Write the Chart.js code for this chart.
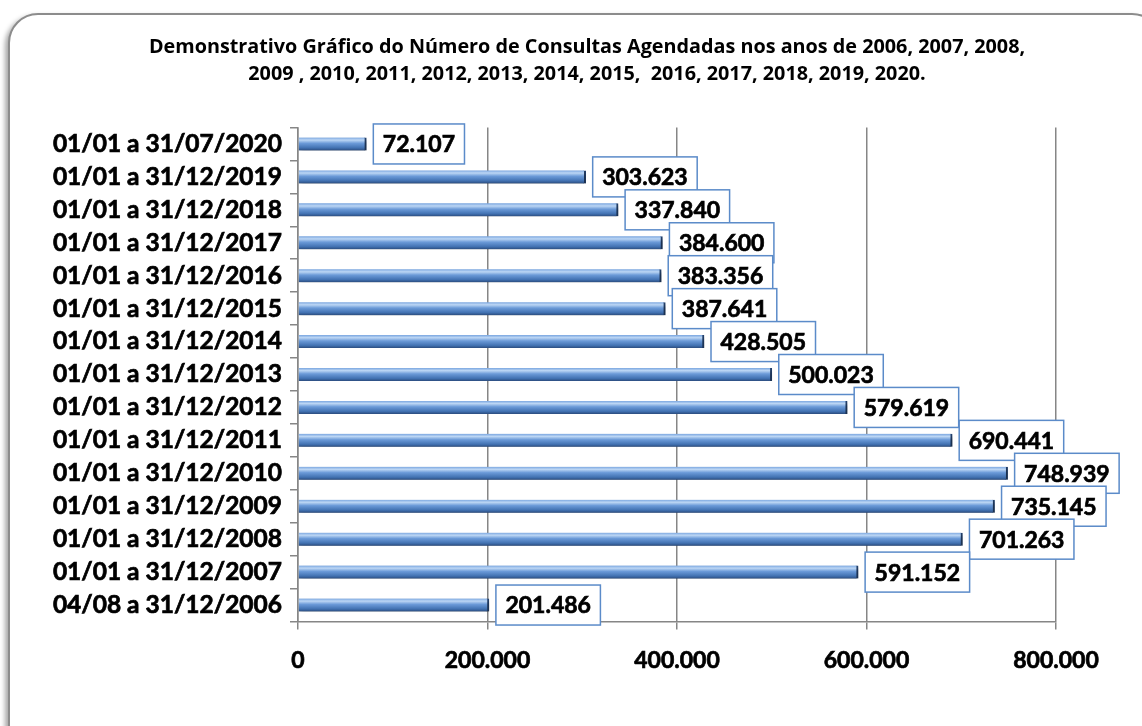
<!DOCTYPE html>
<html>
<head>
<meta charset="utf-8">
<script src="https://cdn.jsdelivr.net/npm/chart.js@4"></script>
<style>
  html, body { margin: 0; padding: 0; background: #fff; overflow: hidden; }
  #wrap { position: relative; width: 1142px; height: 726px; overflow: hidden; }
  #frame {
    position: absolute; left: 8px; top: 13px; width: 1150px; height: 740px;
    border: 2px solid #8c8c8c; border-radius: 30px; background: #fff;
    box-shadow: -3px 3px 5px rgba(0,0,0,0.35);
  }
  #chart { position: absolute; left: 0; top: 0; }
</style>
</head>
<body>
<div id="wrap">
  <div id="frame"></div>
  <canvas id="chart" width="1142" height="726"></canvas>
</div>
<script>
// periods, top row first
const periods = [
  '01/01 a 31/07/2020', '01/01 a 31/12/2019', '01/01 a 31/12/2018', '01/01 a 31/12/2017',
  '01/01 a 31/12/2016', '01/01 a 31/12/2015', '01/01 a 31/12/2014', '01/01 a 31/12/2013',
  '01/01 a 31/12/2012', '01/01 a 31/12/2011', '01/01 a 31/12/2010', '01/01 a 31/12/2009',
  '01/01 a 31/12/2008', '01/01 a 31/12/2007', '04/08 a 31/12/2006'
];
const consultas = [
  72107, 303623, 337840, 384600, 383356, 387641, 428505, 500023,
  579619, 690441, 748939, 735145, 701263, 591152, 201486
];
const xTicks = [0, 200000, 400000, 600000, 800000];
const titleLines = [
  'Demonstrativo Gráfico do Número de Consultas Agendadas nos anos de 2006, 2007, 2008,',
  '2009 , 2010, 2011, 2012, 2013, 2014, 2015,  2016, 2017, 2018, 2019, 2020.'
];

const FONT = 'Lato, "Open Sans", sans-serif';
const BAR_H = 13;

const fmt = v => v.toString().replace(/\B(?=(\d{3})+(?!\d))/g, '.');

// vertical gradient for each bar, from the y scale position
function barFill(ctx) {
  const chart = ctx.chart;
  const ys = chart.scales.y;
  if (!ys || ctx.dataIndex === undefined) return '#4f81bd';
  const yc = ys.getPixelForValue(ctx.dataIndex);
  if (!isFinite(yc)) return '#4f81bd';
  const g = chart.ctx.createLinearGradient(0, yc - BAR_H / 2, 0, yc + BAR_H / 2);
  g.addColorStop(0, '#7aa6e0');
  g.addColorStop(0.2, '#bcd6f4');
  g.addColorStop(0.45, '#6b9ad8');
  g.addColorStop(0.8, '#4272b2');
  g.addColorStop(1, '#2b4c7e');
  return g;
}

const barShadow = {
  id: 'barShadow',
  beforeDatasetsDraw(chart) {
    const c = chart.ctx;
    c.save();
    c.shadowColor = 'rgba(0,0,0,0.35)';
    c.shadowOffsetX = 2;
    c.shadowOffsetY = 3;
    c.shadowBlur = 4;
  },
  afterDatasetsDraw(chart) {
    chart.ctx.restore();
  }
};

// centre the title over the area right of the y labels, like the original
const titleShift = {
  id: 'titleShift',
  afterLayout(chart) {
    if (chart.titleBlock) chart.titleBlock.left = 118;
  }
};

// value boxes right of every bar
const valueBoxes = {
  id: 'valueBoxes',
  afterDatasetsDraw(chart) {
    const c = chart.ctx;
    const meta = chart.getDatasetMeta(0);
    c.save();
    c.font = 'bold 23px ' + FONT;
    c.textBaseline = 'middle';
    c.textAlign = 'center';
    meta.data.forEach((bar, i) => {
      const txt = fmt(consultas[i]);
      const w = c.measureText(txt).width + 19;
      const h = 40;
      const x = bar.x + 7;
      const y = bar.y - h / 2;
      c.fillStyle = '#fff';
      c.fillRect(x, y, w, h);
      c.strokeStyle = '#5b8bc9';
      c.lineWidth = 1.5;
      c.strokeRect(x, y, w, h);
      c.fillStyle = '#000';
      c.strokeStyle = '#000';
      c.lineWidth = 0.7;
      c.fillText(txt, x + w / 2, bar.y + 1);
      c.strokeText(txt, x + w / 2, bar.y + 1);
    });
    c.restore();
  }
};

new Chart(document.getElementById('chart'), {
  type: 'bar',
  data: {
    labels: periods,
    datasets: [{
      data: consultas,
      backgroundColor: barFill,
      borderColor: '#24426e',
      borderWidth: { top: 0, right: 2, bottom: 0, left: 0 },
      borderSkipped: false,
      barThickness: BAR_H
    }]
  },
  options: {
    indexAxis: 'y',
    responsive: false,
    animation: false,
    layout: { padding: { left: 0, right: 86, top: 0, bottom: 0 } },
    plugins: {
      legend: { display: false },
      tooltip: { enabled: false },
      title: {
        display: true,
        text: titleLines,
        color: '#000',
        font: { family: '"Open Sans", sans-serif', size: 19.8, weight: 'bold', lineHeight: 27 / 19.8 },
        padding: { top: 33.5, bottom: 40 }
      }
    },
    scales: {
      x: {
        min: 0,
        max: 800000,
        afterBuildTicks(scale) { scale.ticks = xTicks.map(v => ({ value: v })); },
        afterFit(scale) { scale.height = 104.5; },
        ticks: {
          color: '#000',
          font: { family: FONT, size: 23, weight: 'bold' },
          textStrokeColor: '#000',
          textStrokeWidth: 0.7,
          padding: 17,
          maxRotation: 0,
          callback: v => fmt(v)
        },
        grid: { color: '#868686', lineWidth: 1.5, tickLength: 8 },
        border: { color: '#868686', width: 1.5 }
      },
      y: {
        afterFit(scale) { scale.width = 298; },
        ticks: {
          color: '#000',
          font: { family: FONT, size: 24.5, weight: 'bold' },
          textStrokeColor: '#000',
          textStrokeWidth: 0.7,
          padding: 8
        },
        grid: { drawOnChartArea: false, color: '#868686', lineWidth: 1.5, tickLength: 8, offset: true },
        border: { color: '#868686', width: 1.5 }
      }
    }
  },
  plugins: [barShadow, titleShift, valueBoxes]
});
</script>
</body>
</html>
